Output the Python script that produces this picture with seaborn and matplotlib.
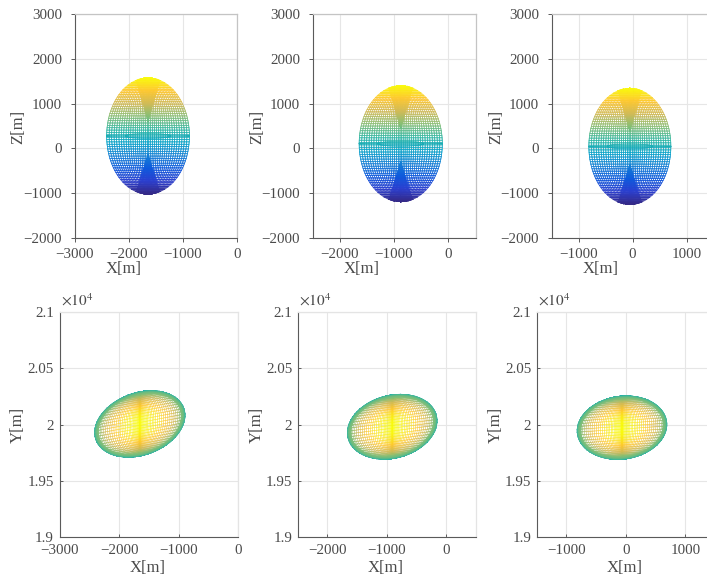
import numpy as np
import pandas as pd
import matplotlib
matplotlib.use("Agg")
import matplotlib.pyplot as plt
import seaborn as sns

W, H = 707, 576
# Top row: X-Z projection
top_cx = [-1645, -876, -49]
top_cz = [277, 104, 45]
top_rx = [762, 765, 759]
top_rz = [1298, 1298, 1298]
# Bottom row: X-Y projection
bot_cx = [-1650, -910, -65]
bot_cy = [20005, 19980, 19972]
bot_rx = [760, 755, 755]
bot_ry = [295, 288, 282]
bot_tilt = [0.10, 0.07, 0.037]
# Axis limits and ticks
xlims = [(-3000, 0), (-2500, 500), (-1500, 1500)]
xticks = [[-3000, -2000, -1000, 0], [-2000, -1000, 0], [-1000, 0, 1000]]
z_ticks = [-2000, -1000, 0, 1000, 2000, 3000]
y_ticks = [19000, 19500, 20000, 20500, 21000]
y_ticklabels = ["1.9", "1.95", "2", "2.05", "2.1"]
# Parula anchors
parula = ["#352a87", "#2b3fd0", "#0f5cdd", "#1481d6", "#06a4ca", "#2eb7a4",
          "#87bf77", "#d1bb59", "#fec832", "#f9fb0e"]
cmap = sns.blend_palette(parula, as_cmap=True)

sns.set_theme(style="whitegrid")
plt.rcParams["font.family"] = ["Liberation Serif", "DejaVu Serif"]
plt.rcParams["mathtext.fontset"] = "stix"
TXT = "#4a4a4a"

def bunched(n, p):
    t = np.linspace(-1, 1, n)
    return np.sign(t) * np.abs(t) ** p

def top_mesh(cx, cz, rx, rz, n_mer=38, n_row=50):
    xs, zs = [], []
    zz = np.linspace(-1, 1, 320)
    for u in bunched(n_mer, 1.12):
        xs.append(u * np.sqrt(1 - zz ** 2)); zs.append(zz)
    # rows
    t = np.linspace(-1, 1, 240)
    for z0 in np.linspace(-0.995, 0.995, n_row):
        xs.append(t * np.sqrt(1 - z0 ** 2)); zs.append(np.full_like(t, z0))
    # dense wedges opening toward the two poles
    for sign, start in [(1, 0.26), (-1, 0.32)]:
        zf = np.linspace(start, 1, 130)
        w = (zf - start) / (1 - start)
        lim = np.sqrt(1 - zf ** 2)
        for u in np.linspace(-0.3, 0.3, 20):
            xs.append(np.clip(u * w, -lim, lim)); zs.append(sign * zf)
    # centre line and thin lens at the equator
    t = np.linspace(0, 2 * np.pi, 300)
    for f, e in [(1.0, 0.0), (0.55, 0.04)]:
        xs.append(f * np.cos(t)); zs.append(e * np.sin(t))
    x = np.concatenate(xs); z = np.concatenate(zs)
    return cx + rx * x, cz + rz * z, np.round((z + 1) / 2, 3)

def bot_mesh(cx, cy, rx, ry, k, n_mer=70, n_lat=36):
    ryy = np.sqrt(ry ** 2 - (k * rx) ** 2)
    xs, ys, hs = [], [], []
    lat = np.linspace(-np.pi / 2, np.pi / 2, 220)
    lons = np.pi / 2 + bunched(n_mer, 2.0) * np.pi / 2
    for lon in lons:
        xs.append(np.cos(lat) * np.cos(lon)); ys.append(np.sin(lat))
        hs.append(np.abs(np.cos(lat) * np.sin(lon)) ** 1.3)
    lon = np.linspace(0, np.pi, 300)
    for la in np.linspace(-np.pi / 2, np.pi / 2, n_lat):
        xs.append(np.cos(la) * np.cos(lon)); ys.append(np.full_like(lon, np.sin(la)))
        hs.append(np.abs(np.cos(la) * np.sin(lon)) ** 1.3)
    # green rim seen edge-on
    t = np.linspace(0, 2 * np.pi, 700)
    for rr in np.linspace(0.92, 1.0, 12):
        xs.append(rr * np.cos(t)); ys.append(rr * np.sin(t))
        hs.append(np.full_like(t, 0.16 + 0.45 * np.sqrt(max(1 - rr ** 2, 0))))
    x = np.concatenate(xs); y = np.concatenate(ys); h = np.concatenate(hs)
    return cx + rx * x, cy + ryy * y + k * rx * x, np.round(0.5 + 0.5 * h, 3)

fig = plt.figure(figsize=(W / 100, H / 100), dpi=100, facecolor="white")

def axes_px(l, r, t, b):
    return fig.add_axes([l / W, 1 - b / H, (r - l) / W, (b - t) / H])

def style(ax, light, tick_dir, ticklen, xpad, ypad):
    ax.set_axisbelow(True)
    ax.grid(True, color="#e6e6e6", linewidth=0.8)
    for s in ("left", "bottom"):
        ax.spines[s].set_color("#5a5a5a"); ax.spines[s].set_linewidth(0.8)
    for s in ("top", "right"):
        ax.spines[s].set_color(light); ax.spines[s].set_linewidth(0.9)
    ax.tick_params(axis="x", bottom=True, direction=tick_dir, length=ticklen, width=0.7,
                   color="#5a5a5a", labelsize=10.8, labelcolor=TXT, pad=xpad)
    ax.tick_params(axis="y", left=True, direction=tick_dir, length=ticklen, width=0.7,
                   color="#5a5a5a", labelsize=10.8, labelcolor=TXT, pad=ypad)

def draw(ax, x, y, h, s):
    df = pd.DataFrame({"x": x, "y": y, "h": h})
    sns.scatterplot(data=df, x="x", y="y", hue="h", palette=cmap, hue_norm=(0, 1),
                    s=s, linewidth=0, marker="o", legend=False, ax=ax)

top_boxes = [(74.5, 237.3), (312.5, 475.5), (551.5, 713.5)]
bot_boxes = [(59.5, 238), (297.7, 476), (536.7, 715)]
top_xlabel = [124, 362, 601]
bot_xlabel = [148, 386, 625]
ylabel_x = [18, 257, 496]

for i in range(3):
    ax = axes_px(top_boxes[i][0], top_boxes[i][1], 14, 238)
    draw(ax, *top_mesh(top_cx[i], top_cz[i], top_rx[i], top_rz[i]), 0.32)
    ax.set_xlim(*xlims[i]); ax.set_ylim(-2000, 3000)
    ax.set_xticks(xticks[i]); ax.set_yticks(z_ticks)
    style(ax, "#c4c4c4", "out", 3, 4.5, 6)
    ax.set_xlabel("X[m]", fontsize=12, color=TXT, va="center", ha="center")
    ax.xaxis.set_label_coords(top_xlabel[i] / W, 1 - 269 / H, transform=fig.transFigure)
    ax.set_ylabel("Z[m]", fontsize=12, color=TXT, va="center", ha="center")
    ax.yaxis.set_label_coords(ylabel_x[i] / W, 1 - 127 / H, transform=fig.transFigure)

    ax = axes_px(bot_boxes[i][0], bot_boxes[i][1], 311.7, 537.3)
    draw(ax, *bot_mesh(bot_cx[i], bot_cy[i], bot_rx[i], bot_ry[i], bot_tilt[i]), 0.22)
    ax.set_xlim(*xlims[i]); ax.set_ylim(19000, 21000)
    ax.set_xticks(xticks[i]); ax.set_yticks(y_ticks); ax.set_yticklabels(y_ticklabels)
    style(ax, "#e4e4e4", "in", 2, 5, 4)
    ax.set_xlabel("X[m]", fontsize=12, color=TXT, va="center", ha="center")
    ax.xaxis.set_label_coords(bot_xlabel[i] / W, 1 - 568 / H, transform=fig.transFigure)
    ax.set_ylabel("Y[m]", fontsize=12, color=TXT, va="center", ha="center")
    ax.yaxis.set_label_coords(ylabel_x[i] / W, 1 - 425 / H, transform=fig.transFigure)
    ax.text(0.008, 1.015, r"$\times 10^4$", transform=ax.transAxes, fontsize=11,
            color=TXT, ha="left", va="bottom")

fig.savefig("out.png", dpi=100)
